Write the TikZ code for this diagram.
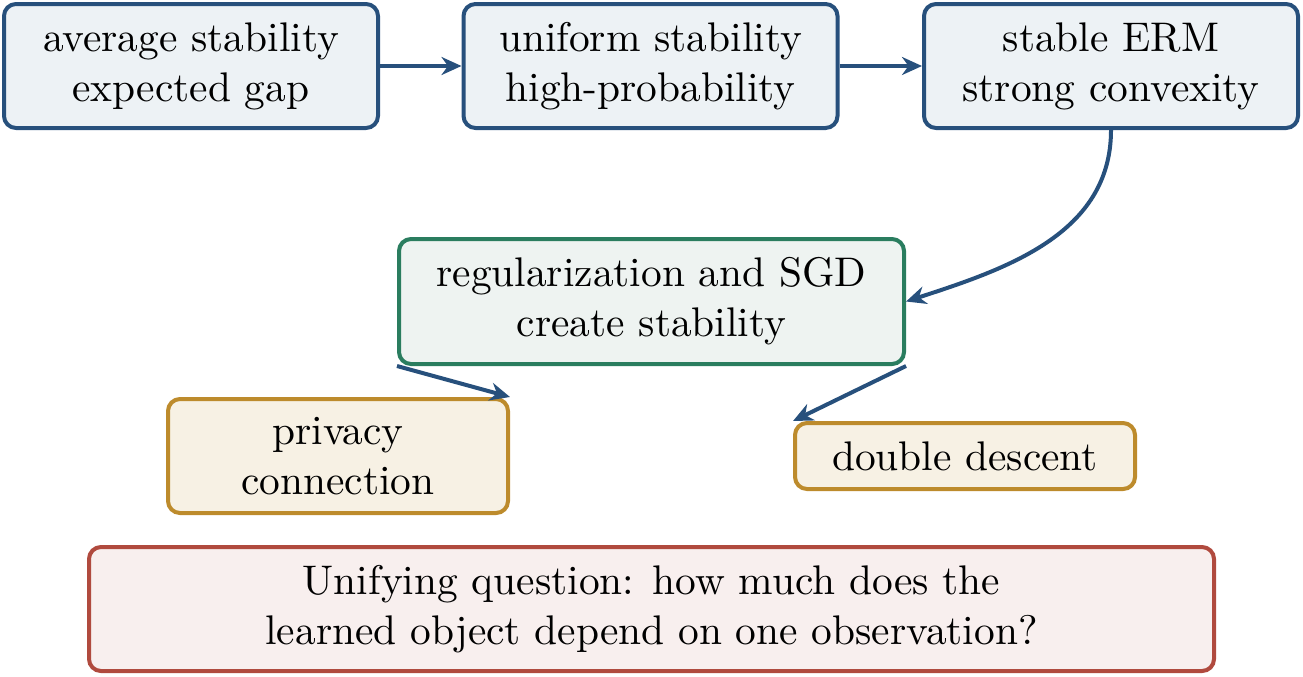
\documentclass[tikz,border=0pt]{standalone}
\usetikzlibrary{arrows.meta}
\definecolor{bline}{HTML}{27507C}
\definecolor{bfill}{HTML}{EDF2F5}
\definecolor{gline}{HTML}{2A7D5F}
\definecolor{gfill}{HTML}{EEF3F1}
\definecolor{oline}{HTML}{BD8B2C}
\definecolor{ofill}{HTML}{F7F1E4}
\definecolor{rline}{HTML}{B04A3E}
\definecolor{rfill}{HTML}{F8EFEE}
\tikzset{
  box/.style={draw, rounded corners=3pt, line width=1pt, align=center, inner sep=0pt, font={\fontsize{10.35pt}{12.5pt}\selectfont}},
  bluebox/.style={box, draw=bline, fill=bfill},
  greenbox/.style={box, draw=gline, fill=gfill},
  goldbox/.style={box, draw=oline, fill=ofill},
  redbox/.style={box, draw=rline, fill=rfill},
  arr/.style={draw=bline, line width=1pt, -{Stealth[length=5pt,width=4.5pt]}}
}
\begin{document}
\begin{tikzpicture}[x=0.25pt,y=-0.25pt]
\useasboundingbox (0,0) rectangle (1303,676);
\node[bluebox, minimum width=93.5pt, minimum height=31pt] (a) at (191,66) {average stability\\expected gap};
\node[bluebox, minimum width=93.5pt, minimum height=31pt] (b) at (650.5,66) {uniform stability\\high-probability};
\node[bluebox, minimum width=93.5pt, minimum height=31pt] (c) at (1111,66) {stable ERM\\strong convexity};
\node[greenbox, minimum width=126.25pt, minimum height=31.25pt] (d) at (651.5,301.5) {regularization and SGD\\create stability};
\node[goldbox, minimum width=85pt, minimum height=28.5pt] (e) at (338,456) {privacy\\connection};
\node[goldbox, minimum width=85pt, minimum height=16.5pt] (f) at (965,456) {double descent};
\node[redbox, minimum width=281.25pt, minimum height=31pt] (g) at (651.5,609) {Unifying question: how much does the\\learned object depend on one observation?};
\draw[arr] (a.east) -- (b.west);
\draw[arr] (b.east) -- (c.west);
\draw[arr] (c.south) to[out=-90,in=18] (d.east);
\draw[arr] (d.south west) -- (e.north east);
\draw[arr] (d.south east) -- (f.north west);
\end{tikzpicture}
\end{document}
